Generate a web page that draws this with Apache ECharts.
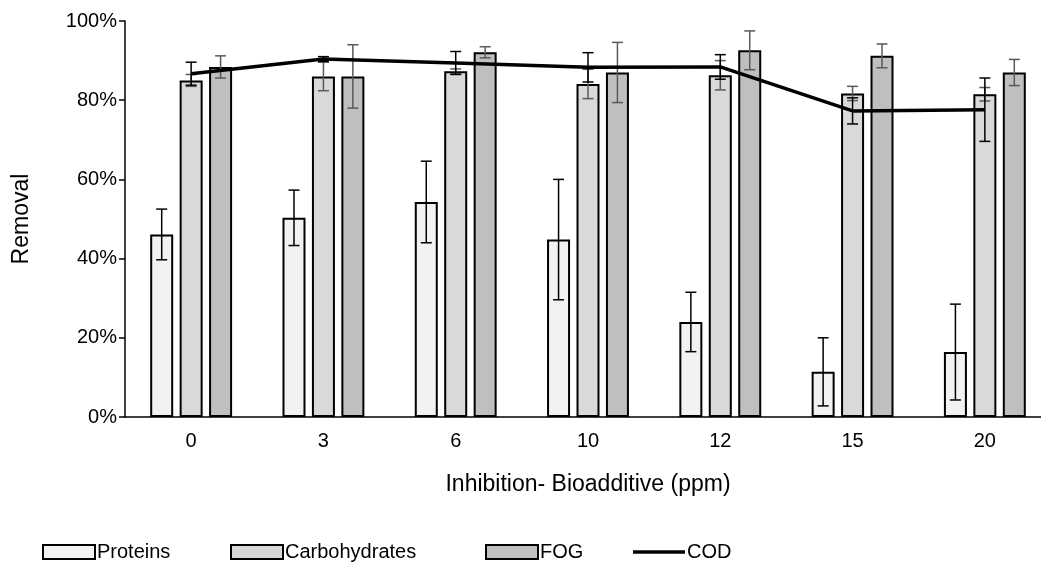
<!DOCTYPE html>
<html>
<head>
<meta charset="utf-8">
<script src="https://cdn.jsdelivr.net/npm/echarts@6/dist/echarts.min.js"></script>
<style>
  html, body { margin: 0; padding: 0; background: #fff; }
  #chart { width: 1041px; height: 562px; }
</style>
</head>
<body>
<div id="chart"></div>
<script>
// Bioadditive dose (ppm) on the category axis
const categories = ['0', '3', '6', '10', '12', '15', '20'];

// Removal efficiencies (%) and their standard deviations
const proteins      = [46.1, 50.3, 54.3, 44.8, 24.0, 11.4, 16.4];
const proteinsErr   = [6.4, 7.0, 10.3, 15.2, 7.5, 8.6, 12.1];
const carbohydrates = [85.0, 86.0, 87.3, 84.1, 86.3, 81.7, 81.5];
const carbsErr      = [1.5, 3.6, 0.6, 3.7, 3.7, 1.8, 1.7];
const fog           = [88.4, 86.0, 92.1, 87.0, 92.6, 91.2, 87.0];
const fogErr        = [2.8, 8.0, 1.4, 7.6, 4.9, 3.0, 3.3];
const cod           = [86.7, 90.4, 89.4, 88.3, 88.4, 77.3, 77.6];
const codErr        = [2.9, 0.6, 2.9, 3.7, 3.1, 3.3, 8.0];

const yTicks = [0, 20, 40, 60, 80, 100];

const BAR_W = 23;
const BAR_GAP = 0.28;
const FONT = '"Liberation Sans", Arial, sans-serif';

function errorSeries(name, values, errs, slot, color) {
  return {
    type: 'custom',
    name: name,
    z: 5,
    data: values.map((v, i) => [i, v - errs[i], v + errs[i]]),
    encode: { x: 0, y: [1, 2] },
    renderItem: function (params, api) {
      const i = api.value(0);
      const lo = api.coord([i, api.value(1)]);
      const hi = api.coord([i, api.value(2)]);
      const x = lo[0] + slot * BAR_W * (1 + BAR_GAP);
      const cap = 5.5;
      const style = { stroke: color, lineWidth: 1.5, fill: null };
      return {
        type: 'group',
        children: [
          { type: 'line', shape: { x1: x, y1: hi[1], x2: x, y2: lo[1] }, style: style },
          { type: 'line', shape: { x1: x - cap, y1: hi[1], x2: x + cap, y2: hi[1] }, style: style },
          { type: 'line', shape: { x1: x - cap, y1: lo[1], x2: x + cap, y2: lo[1] }, style: style }
        ]
      };
    }
  };
}

function barSeries(name, values, color) {
  return {
    type: 'bar',
    name: name,
    data: values,
    barWidth: BAR_W,
    barGap: (BAR_GAP * 100) + '%',
    itemStyle: { color: color, borderColor: '#000', borderWidth: 2 }
  };
}

function legendItem(name, left, extra) {
  return Object.assign({
    left: left,
    top: 537,
    itemWidth: 52,
    itemHeight: 14,
    itemGap: 0,
    icon: 'rect',
    textStyle: { fontFamily: FONT, fontSize: 20, color: '#000', padding: [0, 0, 0, -3] },
    data: [name]
  }, extra || {});
}

const chart = echarts.init(document.getElementById('chart'), null, { renderer: 'canvas' });

chart.setOption({
  animation: false,
  backgroundColor: '#fff',
  textStyle: { fontFamily: FONT, color: '#000' },
  grid: { left: 125, top: 21, width: 926, bottom: 145, containLabel: false, outerBoundsMode: 'none' },
  legend: [
    legendItem('Proteins', 37),
    legendItem('Carbohydrates', 225),
    legendItem('FOG', 480),
    legendItem('COD', 628, { itemHeight: 3.5 })
  ],
  xAxis: {
    type: 'category',
    data: categories,
    name: 'Inhibition- Bioadditive (ppm)',
    nameLocation: 'middle',
    nameGap: 56,
    nameTextStyle: { fontFamily: FONT, fontSize: 23, color: '#000' },
    axisLine: { lineStyle: { color: '#000', width: 1.5 } },
    axisTick: { alignWithLabel: true, length: 5, lineStyle: { color: '#000', width: 1.5 } },
    axisLabel: { fontFamily: FONT, fontSize: 20, color: '#000', margin: 14 },
    splitLine: { show: false }
  },
  yAxis: {
    type: 'value',
    min: yTicks[0],
    max: yTicks[yTicks.length - 1],
    interval: yTicks[1] - yTicks[0],
    name: 'Removal',
    nameLocation: 'middle',
    nameGap: 92,
    nameRotate: 90,
    nameTextStyle: { fontFamily: FONT, fontSize: 23, color: '#000' },
    axisLine: { show: true, lineStyle: { color: '#000', width: 1.5 } },
    axisTick: { show: true, length: 6, lineStyle: { color: '#000', width: 1.5 } },
    axisLabel: { fontFamily: FONT, fontSize: 20, color: '#000', margin: 8, formatter: '{value}%' },
    splitLine: { show: false }
  },
  series: [
    barSeries('Proteins', proteins, '#f2f2f2'),
    barSeries('Carbohydrates', carbohydrates, '#d9d9d9'),
    barSeries('FOG', fog, '#bfbfbf'),
    errorSeries('Proteins SD', proteins, proteinsErr, -1, '#000'),
    errorSeries('Carbohydrates SD', carbohydrates, carbsErr, 0, '#595959'),
    errorSeries('FOG SD', fog, fogErr, 1, '#595959'),
    {
      type: 'line',
      name: 'COD',
      data: cod,
      z: 6,
      symbol: 'none',
      lineStyle: { color: '#000', width: 3.5 },
      itemStyle: { color: '#000' }
    },
    errorSeries('COD SD', cod, codErr, 0, '#000')
  ]
});
</script>
</body>
</html>
